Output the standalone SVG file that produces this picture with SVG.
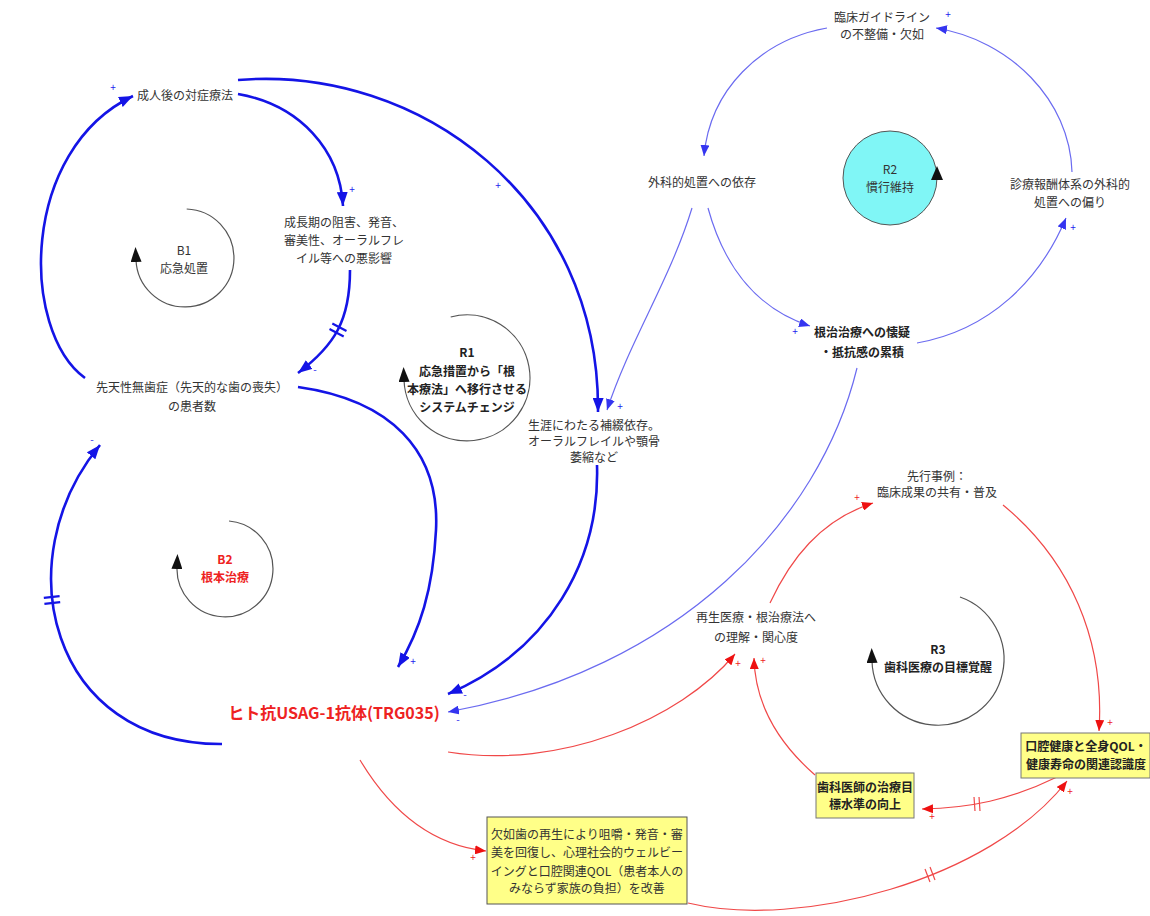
<svg xmlns="http://www.w3.org/2000/svg" width="1150" height="916" viewBox="0 0 1150 916">
<defs>
<style>
text{font-family:'Noto Sans CJK JP','Noto Sans',sans-serif;font-size:12px;fill:#333;text-anchor:middle}
.b{font-weight:bold;fill:#222}
.red{fill:#ee2222}
.sg{font-size:10px}
.sb{fill:#2222ee}
.sr{fill:#ee2222}
.thick{fill:none;stroke:#1414e6;stroke-width:2.6}
.thin{fill:none;stroke:#6b6bf0;stroke-width:1.2}
.rl{fill:none;stroke:#f04848;stroke-width:1.2}
.loop{fill:none;stroke:#555;stroke-width:1.2}
.hb{stroke:#1414e6;stroke-width:2.2}
.hr{stroke:#f04848;stroke-width:1.2}
.box{fill:#ffff88;stroke:#777;stroke-width:1}
</style>
<marker id="ab" markerUnits="userSpaceOnUse" markerWidth="15" markerHeight="11" refX="14" refY="5.5" orient="auto"><path d="M0,0 L14,5.5 L0,11 z" fill="#1414e6"/></marker>
<marker id="at" markerUnits="userSpaceOnUse" markerWidth="12" markerHeight="9" refX="11" refY="4.5" orient="auto"><path d="M0,0 L11,4.5 L0,9 z" fill="#3535f0"/></marker>
<marker id="ar" markerUnits="userSpaceOnUse" markerWidth="12" markerHeight="9" refX="11" refY="4.5" orient="auto"><path d="M0,0 L11,4.5 L0,9 z" fill="#ee1111"/></marker>
<marker id="al" markerUnits="userSpaceOnUse" markerWidth="16" markerHeight="11" refX="2" refY="5.5" orient="auto"><path d="M0,0 L15,5.5 L0,11 z" fill="#111"/></marker>
</defs>
<rect width="1150" height="916" fill="#fff"/>

<g id="connectors">
<!-- thick blue -->
<path class="thick" d="M 85 378 C 20 330, 20 150, 133 96" marker-end="url(#ab)"/>
<path class="thick" d="M 238 94 C 300 105, 340 150, 343 206" marker-end="url(#ab)"/>
<path class="thick" d="M 350 270 C 350 320, 335 345, 298 373" marker-end="url(#ab)"/>
<path class="thick" d="M 238 80 C 420 65, 600 200, 598 412" marker-end="url(#ab)"/>
<path class="thick" d="M 298 387 C 390 400, 440 450, 436 530 C 433 590, 420 630, 398 667" marker-end="url(#ab)"/>
<path class="thick" d="M 597 465 C 600 560, 550 650, 448 694" marker-end="url(#ab)"/>
<path class="thick" d="M 222 744 C 50 745, 5 560, 100 445" marker-end="url(#ab)"/>
<!-- thin blue -->
<path class="thin" d="M 827 28 C 760 40, 710 90, 704 156" marker-end="url(#at)"/>
<path class="thin" d="M 692 208 C 670 280, 630 340, 607 410" marker-end="url(#at)"/>
<path class="thin" d="M 708 208 C 725 270, 760 310, 810 326" marker-end="url(#at)"/>
<path class="thin" d="M 917 343 C 990 330, 1040 280, 1066 218" marker-end="url(#at)"/>
<path class="thin" d="M 1072 172 C 1070 100, 1010 40, 936 28" marker-end="url(#at)"/>
<path class="thin" d="M 857 368 C 820 520, 680 670, 448 712" marker-end="url(#at)"/>
<!-- red -->
<path class="rl" d="M 448 752 C 560 770, 680 720, 735 654" marker-end="url(#ar)"/>
<path class="rl" d="M 360 760 C 390 810, 430 845, 486 851" marker-end="url(#ar)"/>
<path class="rl" d="M 688 903 C 800 930, 990 880, 1067 781" marker-end="url(#ar)"/>
<path class="rl" d="M 1057 777 C 1010 800, 970 808, 922 809" marker-end="url(#ar)"/>
<path class="rl" d="M 815 775 C 775 740, 755 700, 754 658" marker-end="url(#ar)"/>
<path class="rl" d="M 770 603 C 790 560, 820 520, 873 503" marker-end="url(#ar)"/>
<path class="rl" d="M 1003 505 C 1070 560, 1105 640, 1099 731" marker-end="url(#ar)"/>
<!-- delay marks -->
<line class="hb" x1="329.5" y1="329" x2="343.7" y2="336.4"/>
<line class="hb" x1="332.3" y1="323.6" x2="346.5" y2="331"/>
<line class="hb" x1="44.4" y1="603.9" x2="60.2" y2="602.1"/>
<line class="hb" x1="43.8" y1="597.9" x2="59.6" y2="596.1"/>
<line class="hr" x1="930" y1="867" x2="935" y2="880"/>
<line class="hr" x1="925" y1="869" x2="930" y2="882"/>
<line class="hr" x1="974" y1="797" x2="975" y2="811"/>
<line class="hr" x1="979" y1="797" x2="980" y2="811"/>
<!-- polarity -->
<text class="sg sb" x="113" y="91">+</text>
<text class="sg sb" x="352" y="193">+</text>
<text class="sg sb" x="315" y="373">-</text>
<text class="sg sb" x="498" y="189">+</text>
<text class="sg sb" x="413" y="665">+</text>
<text class="sg sb" x="465" y="698">-</text>
<text class="sg sb" x="92" y="443">-</text>
<text class="sg sb" x="620" y="410">+</text>
<text class="sg sb" x="795" y="335">+</text>
<text class="sg sb" x="1073" y="231">+</text>
<text class="sg sb" x="948" y="18">+</text>
<text class="sg sb" x="458" y="723">-</text>
<text class="sg sr" x="738" y="667">+</text>
<text class="sg sr" x="763" y="664">+</text>
<text class="sg sr" x="857" y="501">+</text>
<text class="sg sr" x="1110" y="726">+</text>
<text class="sg sr" x="1070" y="795">+</text>
<text class="sg sr" x="932" y="820">+</text>
<text class="sg sr" x="473" y="861">+</text>
</g>

<g id="loop-B1">
<path class="loop" d="M 186.7 209 A 49 49 0 1 1 136 260" marker-end="url(#al)"/>
<text x="184" y="255">B1</text>
<text x="184" y="273">応急処置</text>
</g>
<g id="loop-B2">
<path class="loop" d="M 229 521 A 48 48 0 1 1 177 567" marker-end="url(#al)"/>
<text class="b red" x="225" y="564">B2</text>
<text class="b red" x="225" y="582">根本治療</text>
</g>
<g id="loop-R1">
<path class="loop" d="M 450.7 317 A 63 63 0 1 1 404 380" marker-end="url(#al)"/>
<text class="b" x="467" y="357">R1</text>
<text class="b" x="467" y="376">応急措置から「根</text>
<text class="b" x="467" y="394">本療法」へ移行させる</text>
<text class="b" x="467" y="412">システムチェンジ</text>
</g>
<g id="loop-R2">
<circle cx="890" cy="178" r="47" fill="#80f6f6" stroke="#555" stroke-width="1"/>
<path d="M 931 180 L 937 166 L 943 180 z" fill="#111"/>
<text x="890" y="174">R2</text>
<text x="890" y="192">慣行維持</text>
</g>
<g id="loop-R3">
<path class="loop" d="M 960 597 A 66 66 0 1 1 872 661" marker-end="url(#al)"/>
<text class="b" x="938" y="654">R3</text>
<text class="b" x="938" y="672">歯科医療の目標覚醒</text>
</g>

<g id="n-adult">
<text x="185" y="100">成人後の対症療法</text>
</g>
<g id="n-growth">
<text x="344" y="227">成長期の阻害、発音、</text>
<text x="344" y="245">審美性、オーラルフレ</text>
<text x="344" y="263">イル等への悪影響</text>
</g>
<g id="n-patients">
<text x="192" y="392">先天性無歯症（先天的な歯の喪失）</text>
<text x="192" y="411">の患者数</text>
</g>
<g id="n-prosthesis">
<text x="594" y="430">生涯にわたる補綴依存。</text>
<text x="594" y="446">オーラルフレイルや顎骨</text>
<text x="594" y="462">萎縮など</text>
</g>
<g id="n-guideline">
<text x="882" y="22">臨床ガイドライン</text>
<text x="882" y="39">の不整備・欠如</text>
</g>
<g id="n-surgery">
<text x="702" y="187">外科的処置への依存</text>
</g>
<g id="n-fee">
<text x="1070" y="189">診療報酬体系の外科的</text>
<text x="1070" y="207">処置への偏り</text>
</g>
<g id="n-skeptic">
<text class="b" x="862" y="337">根治治療への懐疑</text>
<text class="b" x="862" y="357">・抵抗感の累積</text>
</g>
<g id="n-precedent">
<text x="937" y="481">先行事例：</text>
<text x="937" y="497">臨床成果の共有・普及</text>
</g>
<g id="n-understanding">
<text x="756" y="622">再生医療・根治療法へ</text>
<text x="756" y="642">の理解・関心度</text>
</g>
<g id="n-oral">
<rect class="box" x="1021" y="733" width="129" height="45"/>
<text class="b" x="1086" y="751">口腔健康と全身QOL・</text>
<text class="b" x="1086" y="769">健康寿命の関連認識度</text>
</g>
<g id="n-dentist">
<rect class="box" x="816" y="773" width="98" height="45"/>
<text class="b" x="865" y="792">歯科医師の治療目</text>
<text class="b" x="865" y="809">標水準の向上</text>
</g>
<g id="n-qol">
<rect class="box" x="487" y="817" width="200" height="87" style="stroke:#555"/>
<text x="587" y="839">欠如歯の再生により咀嚼・発音・審</text>
<text x="587" y="857">美を回復し、心理社会的ウェルビー</text>
<text x="587" y="876">イングと口腔関連QOL（患者本人の</text>
<text x="587" y="893">みならず家族の負担）を改善</text>
</g>
<g id="n-antibody">
<text class="b red" x="334" y="719" style="font-size:16px">ヒト抗USAG-1抗体(TRG035)</text>
</g>
</svg>
